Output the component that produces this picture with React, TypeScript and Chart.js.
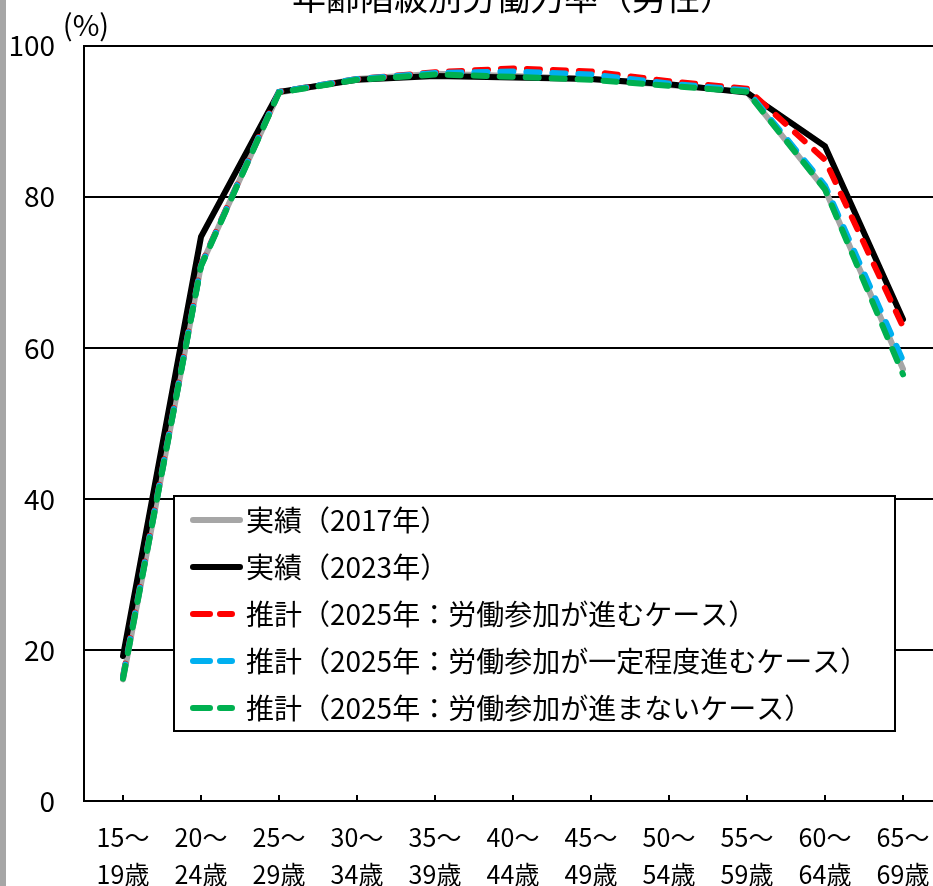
import React, { useEffect, useRef } from 'react';
import { Chart, registerables } from 'chart.js';

Chart.register(...registerables);

// Age groups (two-line category labels)
const ageFrom = ['15～', '20～', '25～', '30～', '35～', '40～', '45～', '50～', '55～', '60～', '65～'];
const ageTo = ['19歳', '24歳', '29歳', '34歳', '39歳', '44歳', '49歳', '54歳', '59歳', '64歳', '69歳'];

// Value axis ticks (%)
const yTicks = [0, 20, 40, 60, 80, 100];

const chartTitle = '年齢階級別労働力率（男性）';
const unitLabel = '(%)';

const seriesNames = [
  '実績（2017年）',
  '実績（2023年）',
  '推計（2025年：労働参加が進むケース）',
  '推計（2025年：労働参加が一定程度進むケース）',
  '推計（2025年：労働参加が進まないケース）',
];

// Labour force participation rate, male (%)
const actual2017 = [16.1, 70.9, 93.8, 95.6, 96.3, 96.0, 95.6, 94.8, 93.9, 81.0, 57.2];
const actual2023 = [19.2, 74.7, 93.9, 95.5, 96.0, 95.8, 95.6, 94.9, 93.8, 86.7, 63.8];
const projAdvance = [16.5, 71.0, 93.9, 95.6, 96.5, 97.0, 96.6, 95.3, 94.3, 84.9, 62.8];
const projPartial = [16.4, 70.9, 93.9, 95.6, 96.4, 96.6, 96.2, 95.0, 94.1, 81.5, 58.3];
const projNone = [16.2, 70.8, 93.8, 95.5, 96.2, 95.9, 95.5, 94.7, 93.9, 81.0, 56.5];

const seriesValues = [actual2017, actual2023, projAdvance, projPartial, projNone];
const seriesColors = ['#a6a6a6', '#000000', '#ff0000', '#00b0f0', '#00b050'];
const seriesDashed = [false, false, true, true, true];

const FONT = '"Noto Sans CJK JP", "Noto Sans", sans-serif';

// Title (partly above the page) and the unit label next to the top tick
const annotationsPlugin = {
  id: 'titleAndUnit',
  afterDraw(chart: any) {
    const { ctx, chartArea } = chart;
    ctx.save();
    ctx.fillStyle = '#000';
    ctx.textAlign = 'center';
    ctx.textBaseline = 'alphabetic';
    ctx.font = `34px ${FONT}`;
    ctx.fillText(chartTitle, (chartArea.left + chartArea.right) / 2, 10);

    ctx.font = `29px ${FONT}`;
    ctx.textBaseline = 'middle';
    ctx.fillText(unitLabel, 86, 25);
    ctx.restore();
  },
};

// Short tick marks pointing up into the plot from the category axis
const innerTicksPlugin = {
  id: 'innerTicks',
  afterDraw(chart: any) {
    const { ctx, chartArea } = chart;
    const xScale = chart.scales.x;
    ctx.save();
    ctx.strokeStyle = '#000';
    ctx.lineWidth = 2;
    ctx.beginPath();
    for (let i = 0; i < ageFrom.length; i++) {
      const px = Math.round(xScale.getPixelForValue(i));
      ctx.moveTo(px, chartArea.bottom);
      ctx.lineTo(px, chartArea.bottom - 6);
    }
    ctx.stroke();
    ctx.restore();
  },
};

// Boxed legend inside the plot area
const boxLegendPlugin = {
  id: 'boxLegend',
  beforeDatasetsDraw(chart: any) {
    const ctx = chart.ctx;
    const bx = 174;
    const by = 496;
    const bw = 721;
    const bh = 235;
    const rowTop = 520;
    const rowStep = 47;
    ctx.save();
    ctx.fillStyle = '#fff';
    ctx.fillRect(bx, by, bw, bh);
    ctx.strokeStyle = '#000';
    ctx.lineWidth = 2;
    ctx.strokeRect(bx, by, bw, bh);

    chart.data.datasets.forEach((ds: any, i: number) => {
      const y = rowTop + i * rowStep;
      ctx.beginPath();
      ctx.strokeStyle = ds.borderColor;
      ctx.lineWidth = 6;
      ctx.lineCap = 'round';
      if (ds.borderDash && ds.borderDash.length) {
        ctx.setLineDash([17, 10]);
        ctx.moveTo(193, y);
        ctx.lineTo(232, y);
      } else {
        ctx.setLineDash([]);
        ctx.moveTo(193, y);
        ctx.lineTo(240, y);
      }
      ctx.stroke();
      ctx.setLineDash([]);
      ctx.fillStyle = '#000';
      ctx.font = `28px ${FONT}`;
      ctx.textAlign = 'left';
      ctx.textBaseline = 'middle';
      ctx.fillText(ds.label, 246, y);
    });
    ctx.restore();
  },
};

export default function App() {
  const canvasRef = useRef<HTMLCanvasElement | null>(null);

  useEffect(() => {
    const canvas = canvasRef.current;
    if (!canvas) return;

    const datasets = seriesNames.map((name, i) => ({
      label: name,
      data: seriesValues[i],
      borderColor: seriesColors[i],
      backgroundColor: seriesColors[i],
      borderWidth: 6,
      borderDash: seriesDashed[i] ? [13, 13] : [],
      borderCapStyle: 'round' as const,
      borderJoinStyle: 'miter' as const,
      pointRadius: 0,
      pointHoverRadius: 0,
      fill: false,
      tension: 0,
      order: seriesNames.length - i,
    }));

    const chart = new Chart(canvas, {
      type: 'line',
      data: {
        labels: ageFrom.map((a, i) => [a, ageTo[i]]),
        datasets,
      },
      plugins: [boxLegendPlugin, innerTicksPlugin, annotationsPlugin],
      options: {
        responsive: false,
        animation: false,
        devicePixelRatio: 1,
        layout: { padding: { left: 0, top: 44, right: 18, bottom: 0 } },
        plugins: {
          legend: { display: false },
          title: { display: false },
          tooltip: { enabled: false },
        },
        scales: {
          x: {
            type: 'category',
            offset: true,
            grid: { display: false, drawTicks: false },
            border: { display: true, color: '#000', width: 2 },
            ticks: {
              color: '#000',
              font: { family: FONT, size: 25, lineHeight: 1.48 },
              padding: 18,
              maxRotation: 0,
              autoSkip: false,
            },
            afterFit: (scale: any) => {
              scale.height = 85;
            },
          },
          y: {
            min: 0,
            max: 100,
            grid: { color: '#000', lineWidth: 2, drawTicks: false },
            border: { display: true, color: '#000', width: 2 },
            ticks: {
              color: '#000',
              font: { family: FONT, size: 28 },
              padding: 29,
            },
            afterBuildTicks: (scale: any) => {
              scale.ticks = yTicks.map((v) => ({ value: v }));
            },
            afterFit: (scale: any) => {
              scale.width = 84;
            },
          },
        },
      },
    });

    return () => chart.destroy();
  }, []);

  return (
    <div
      style={{
        position: 'fixed',
        left: 0,
        top: 0,
        width: 933,
        height: 886,
        overflow: 'hidden',
        background: '#fff',
      }}
    >
      <canvas ref={canvasRef} width={960} height={886} style={{ display: 'block' }} />
      <div
        style={{
          position: 'absolute',
          left: 0,
          top: 0,
          width: 6,
          height: 886,
          background: '#a6a6a6',
        }}
      />
    </div>
  );
}
